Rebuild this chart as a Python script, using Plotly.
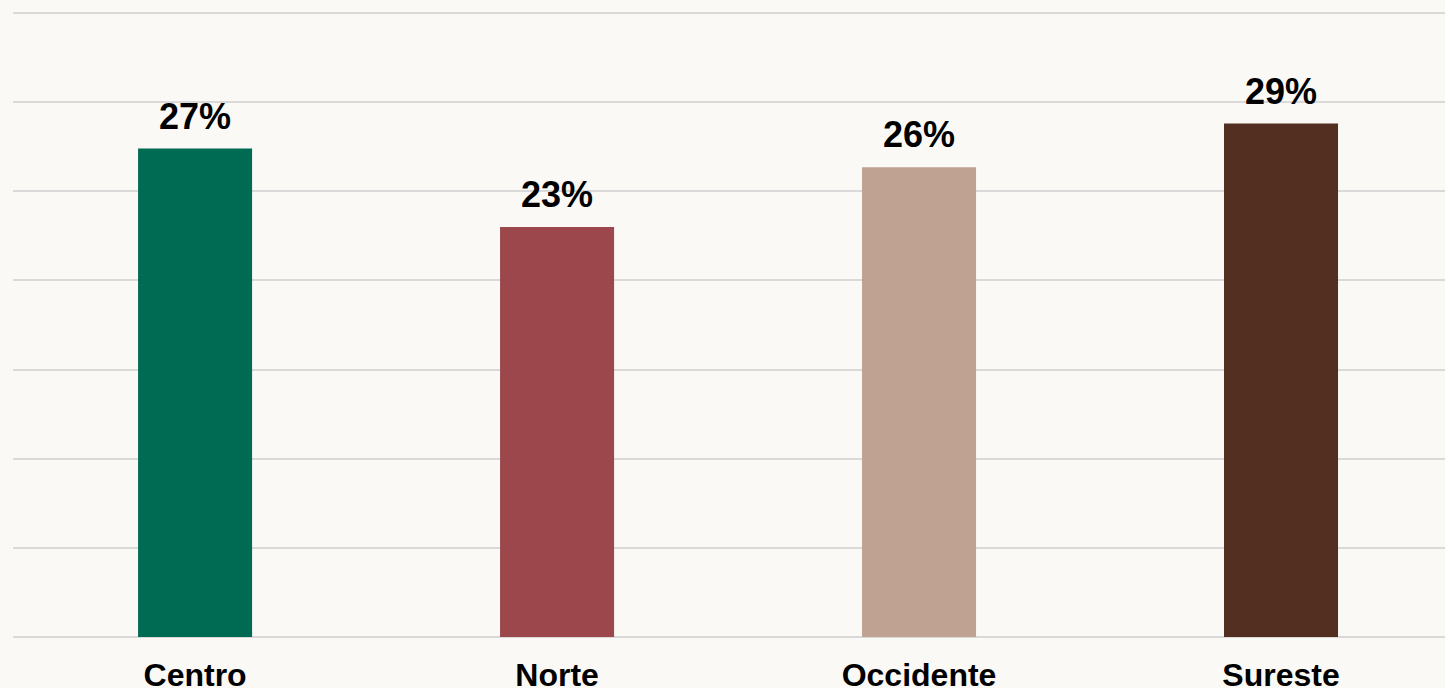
import plotly.graph_objects as go

regions = ['Centro', 'Norte', 'Occidente', 'Sureste']
shares = [27.4, 23.0, 26.35, 28.8]
bar_colors = ['#006B53', '#9C474B', '#BFA291', '#532F22']
labels = [f'{round(v)}%' for v in shares]

FONT = 'Liberation Sans, Arial, sans-serif'

fig = go.Figure()
fig.add_trace(go.Bar(
    x=regions, y=shares,
    marker=dict(color=bar_colors, line=dict(width=0)),
    width=0.315,
    hoverinfo='skip',
))

# value labels above each bar
for r, v, t in zip(regions, shares, labels):
    fig.add_annotation(
        x=r, y=v, text=t, showarrow=False,
        yanchor='bottom', yshift=10,
        font=dict(family=FONT, size=36, color='black', weight='bold'),
    )

fig.update_layout(
    width=1445, height=688,
    margin=dict(l=13, r=0, t=12, b=50),
    paper_bgcolor='#FAF9F5',
    plot_bgcolor='#FAF9F5',
    showlegend=False,
    xaxis=dict(
        range=[-0.503, 3.453], automargin=False,
        showgrid=False, zeroline=False, showline=False,
        ticks='', ticklabelstandoff=15,
        tickfont=dict(family=FONT, size=32, color='black', weight='bold'),
    ),
    yaxis=dict(
        range=[-0.06, 35.06], dtick=5, automargin=False,
        showgrid=True, gridcolor='#D9D9D9', gridwidth=2,
        zeroline=False, showline=False, showticklabels=False,
    ),
)

# drop the default page margin so the chart sits flush in the window
fig.write_html("out.html", config={'displayModeBar': False},
               post_script="document.body.style.margin='0';")
